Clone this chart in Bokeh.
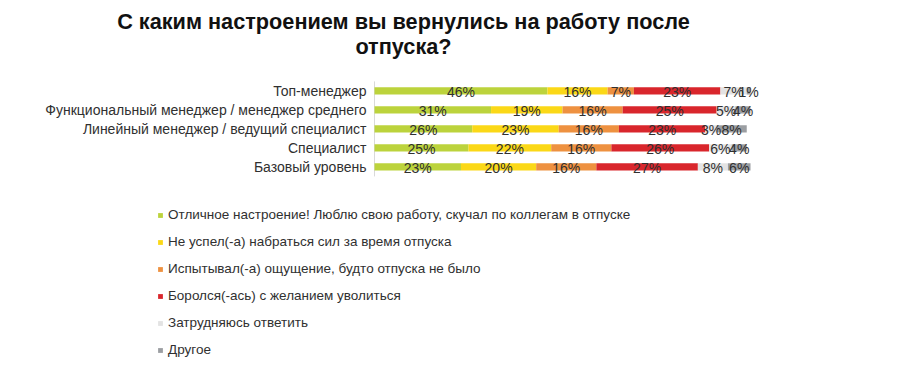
import numpy as np
from bokeh.plotting import figure
from bokeh.models import ColumnDataSource, Range1d, Label, Legend, LegendItem
from bokeh.core.properties import value
from bokeh.embed import file_html
from bokeh.resources import INLINE

# ---------------- data ----------------
categories = [
    "Топ-менеджер",
    "Функциональный менеджер / менеджер среднего",
    "Линейный менеджер / ведущий специалист",
    "Специалист",
    "Базовый уровень",
]
series_names = [
    "Отличное настроение! Люблю свою работу, скучал по коллегам в отпуске",
    "Не успел(-а) набраться сил за время отпуска",
    "Испытывал(-а) ощущение, будто отпуска не было",
    "Боролся(-ась) с желанием уволиться",
    "Затрудняюсь ответить",
    "Другое",
]
excellent = [46, 31, 26, 25, 23]
no_rest = [16, 19, 23, 22, 20]
no_vacation = [7, 16, 16, 16, 16]
quit_wish = [23, 25, 23, 26, 27]
hard_to_say = [7, 5, 3, 6, 8]
other = [1, 4, 8, 4, 6]

title_line1 = "С каким настроением вы вернулись на работу после"
title_line2 = "отпуска?"

colors = ["#bcd33c", "#fbd817", "#ee9140", "#d9262c", "#e3e3e3", "#9b9ea2"]
FONT = "Liberation Sans"
TXT = "#303030"

W, H = 884, 357
X0_PX, PX_PER_PCT = 374.0, 3.76      # where 0 % sits, pixels per percent
Y0_PX, ROW_PX = 90.4, 19.0           # centre of first row, row pitch

keys = ["s0", "s1", "s2", "s3", "s4", "s5"]
series = [excellent, no_rest, no_vacation, quit_wish, hard_to_say, other]
rows = list(range(len(categories)))
data = {"cat": categories, "row": rows}
for k, s in zip(keys, series):
    data[k] = s
source = ColumnDataSource(data)

x_range = Range1d(-X0_PX / PX_PER_PCT, (W - X0_PX) / PX_PER_PCT)
y_range = Range1d((H - Y0_PX) / ROW_PX, -Y0_PX / ROW_PX)   # inverted: first row on top

p = figure(
    x_range=x_range, y_range=y_range,
    width=W, height=H,
    min_border=0, min_border_left=0, min_border_right=0,
    min_border_top=0, min_border_bottom=0,
    output_backend="svg", toolbar_location=None,
    x_axis_location=None, y_axis_location=None,
)
p.xgrid.visible = False
p.ygrid.visible = False
p.outline_line_color = None
p.background_fill_color = "white"
p.border_fill_color = "white"

# faint value-axis line
p.segment(x0=[0], x1=[0], y0=[-0.5], y1=[len(categories) - 0.5],
          line_color="#d9d9d9", line_width=1)

renderers = p.hbar_stack(keys, y="row", height=0.38, color=colors,
                         line_color=None, source=source)

# category labels
p.text(x=0, y="row", text="cat", source=source, text_align="right",
       text_baseline="middle", x_offset=-8, text_font=value(FONT),
       text_font_size="14px", text_color=TXT)

# percentage labels centred in each segment
vals = np.array(series, dtype=float)  # shape (6, 5)
cum = np.cumsum(vals, axis=0)
mids = cum - vals / 2.0
lx, ly, lt = [], [], []
for i in range(len(series)):
    for j in rows:
        lx.append(mids[i, j])
        ly.append(j)
        lt.append(f"{int(vals[i, j])}%")
lab_src = ColumnDataSource(dict(x=lx, y=ly, t=lt))
p.text(x="x", y="y", text="t", source=lab_src, text_align="center",
       text_baseline="middle", text_font=value(FONT), text_font_size="14px",
       text_color=TXT, y_offset=1)

# legend
items = [LegendItem(label=n, renderers=[r]) for n, r in zip(series_names, renderers)]
legend = Legend(items=items, location=(157, 0), orientation="vertical",
                glyph_width=6, glyph_height=6, label_height=12, spacing=12,
                padding=0, margin=0, label_standoff=5,
                label_text_font=FONT, label_text_font_size="13.5px",
                label_text_color=TXT, border_line_color=None,
                background_fill_alpha=0)
p.add_layout(legend, "center")

# title
for txt, yy in [(title_line1, H - 21), (title_line2, H - 46)]:
    p.add_layout(Label(x=403, y=yy, x_units="screen", y_units="screen", text=txt,
                       text_align="center", text_baseline="middle",
                       text_font=FONT, text_font_size="21.7px",
                       text_font_style="bold", text_color="#111111"))

open("out.html", "w").write(file_html(p, INLINE))
